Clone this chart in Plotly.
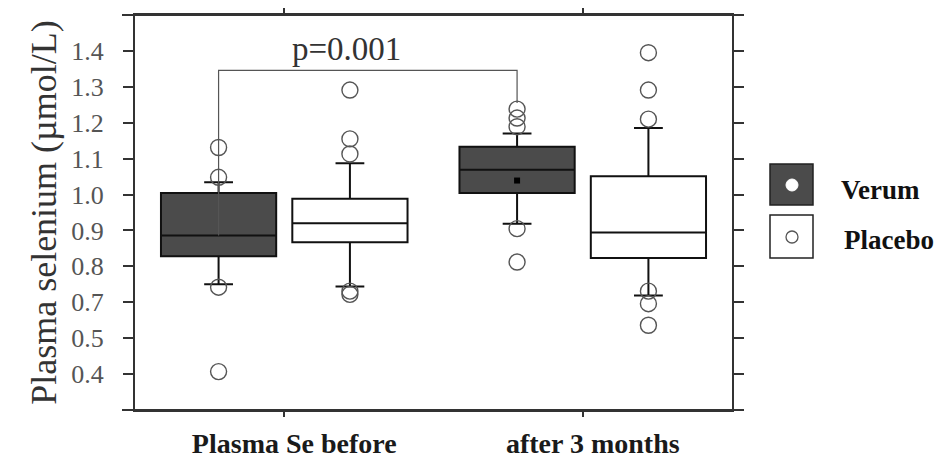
import plotly.graph_objects as go

# ---- data -------------------------------------------------------------
groups = ["Plasma Se before", "after 3 months"]

verum_q1 = [0.828, 1.004]
verum_median = [0.886, 1.069]
verum_q3 = [1.004, 1.133]
verum_low = [0.750, 0.919]
verum_high = [1.034, 1.170]
verum_outliers = [[1.131, 1.048, 0.742, 0.507],
                  [1.238, 1.213, 1.189, 0.905, 0.812]]
verum_mean = [None, 1.039]

placebo_q1 = [0.867, 0.823]
placebo_median = [0.920, 0.894]
placebo_q3 = [0.988, 1.051]
placebo_low = [0.744, 0.719]
placebo_high = [1.087, 1.185]
placebo_outliers = [[1.291, 1.155, 1.113, 0.731, 0.722],
                    [1.395, 1.291, 1.210, 0.731, 0.696, 0.636]]

y_tick_vals = [0.4, 0.5, 0.6, 0.7, 0.8, 0.9, 1.0, 1.1, 1.2, 1.3, 1.4, 1.5]
y_tick_text = ["", "0.4", "0.5", "0.7", "0.8", "0.9", "1.0", "1.1", "1.2", "1.3", "1.4", ""]

p_text = "p=0.001"

# ---- geometry ---------------------------------------------------------
W, H = 939, 460
L, R, T, B = 135, 207, 15, 50
OFF = 0.22          # offset of each box from its group centre
BOX_W = 0.386
SERIF = "Times New Roman"
DARK = "#4b4b4b"


def px(x):
    return (x - L) / (W - L - R)


def py(y):
    return (H - B - y) / (H - T - B)


pos_v = [i - OFF for i in range(len(groups))]
pos_p = [i + OFF for i in range(len(groups))]

fig = go.Figure()

fig.add_trace(go.Box(
    x=pos_v, q1=verum_q1, median=verum_median, q3=verum_q3,
    lowerfence=verum_low, upperfence=verum_high,
    width=BOX_W, whiskerwidth=0.25, boxpoints=False,
    fillcolor=DARK, line=dict(color="#111", width=2),
    name="Verum", showlegend=False, hoverinfo="skip"))

fig.add_trace(go.Box(
    x=pos_p, q1=placebo_q1, median=placebo_median, q3=placebo_q3,
    lowerfence=placebo_low, upperfence=placebo_high,
    width=BOX_W, whiskerwidth=0.25, boxpoints=False,
    fillcolor="white", line=dict(color="#111", width=2),
    name="Placebo", showlegend=False, hoverinfo="skip"))

# outlying observations as open circles
ox, oy = [], []
for i, vals in enumerate(verum_outliers):
    ox += [pos_v[i]] * len(vals)
    oy += vals
for i, vals in enumerate(placebo_outliers):
    ox += [pos_p[i]] * len(vals)
    oy += vals
fig.add_trace(go.Scatter(
    x=ox, y=oy, mode="markers", showlegend=False, hoverinfo="skip",
    marker=dict(symbol="circle-open", size=16, color="#555",
                line=dict(width=1.4, color="#555"))))

# mean marker
mx = [pos_v[i] for i, m in enumerate(verum_mean) if m is not None]
my = [m for m in verum_mean if m is not None]
fig.add_trace(go.Scatter(
    x=mx, y=my, mode="markers", showlegend=False, hoverinfo="skip",
    marker=dict(symbol="square", size=6, color="#000")))

shapes = []
# significance bracket
BR_Y = 1.346
shapes.append(dict(type="path", xref="x", yref="y",
                   path=f"M {pos_v[0]} {verum_median[0]} L {pos_v[0]} {BR_Y} "
                        f"L {pos_v[1]} {BR_Y} L {pos_v[1]} 1.255",
                   line=dict(color="#555", width=1.2)))

# top and bottom frame rules extending slightly past the axes
for yy in (T, H - B):
    shapes.append(dict(type="line", xref="paper", yref="paper",
                       x0=px(122), x1=px(741), y0=py(yy), y1=py(yy),
                       line=dict(color="#333", width=2)))

# legend keys
shapes.append(dict(type="rect", xref="paper", yref="paper",
                   x0=px(770), x1=px(813), y0=py(205), y1=py(164),
                   fillcolor=DARK, line=dict(color="#222", width=1.5)))
shapes.append(dict(type="circle", xref="paper", yref="paper",
                   x0=px(786), x1=px(798), y0=py(191), y1=py(179),
                   fillcolor="white", line=dict(color="white", width=1)))
shapes.append(dict(type="rect", xref="paper", yref="paper",
                   x0=px(770), x1=px(813), y0=py(258), y1=py(215),
                   fillcolor="white", line=dict(color="#222", width=1.5)))
shapes.append(dict(type="circle", xref="paper", yref="paper",
                   x0=px(786), x1=px(798), y0=py(243), y1=py(231),
                   fillcolor="white", line=dict(color="#555", width=1.3)))

annotations = [
    dict(text=p_text, xref="paper", yref="paper", x=px(346), y=py(49),
         showarrow=False, xanchor="center", yanchor="middle",
         font=dict(family=SERIF, size=33, color="#333")),
    dict(text="Verum", xref="paper", yref="paper", x=px(839), y=py(190),
         showarrow=False, xanchor="left", yanchor="middle",
         font=dict(family=SERIF, size=27, color="#111", weight="bold")),
    dict(text="Placebo", xref="paper", yref="paper", x=px(842), y=py(240),
         showarrow=False, xanchor="left", yanchor="middle",
         font=dict(family=SERIF, size=27, color="#111", weight="bold")),
]

fig.update_layout(
    width=W, height=H,
    margin=dict(l=L, r=R, t=T, b=B, pad=0),
    paper_bgcolor="white", plot_bgcolor="white",
    shapes=shapes, annotations=annotations,
    xaxis=dict(range=[-0.5, 1.5], tickvals=list(range(len(groups))),
               ticktext=groups, ticks="outside", ticklen=5, tickwidth=1.5,
               tickcolor="#333", showline=True, linecolor="#333", linewidth=2,
               mirror="allticks", showgrid=False, zeroline=False, automargin=False,
               ticklabelstandoff=2, ticklabelshift=10,
               tickfont=dict(family=SERIF, size=28, color="#1a1a1a", weight="bold")),
    yaxis=dict(range=[0.4, 1.5], tickvals=y_tick_vals, ticktext=y_tick_text,
               ticks="outside", ticklen=10, tickwidth=2, tickcolor="#333",
               showline=True, linecolor="#333", linewidth=2, mirror="allticks",
               showgrid=False, zeroline=False, automargin=False,
               ticklabelstandoff=14,
               tickfont=dict(family=SERIF, size=26, color="#555"),
               title=dict(text="Plasma selenium (µmol/L)", standoff=4,
                          font=dict(family=SERIF, size=36, color="#333"))),
)

fig.write_html("out.html")
